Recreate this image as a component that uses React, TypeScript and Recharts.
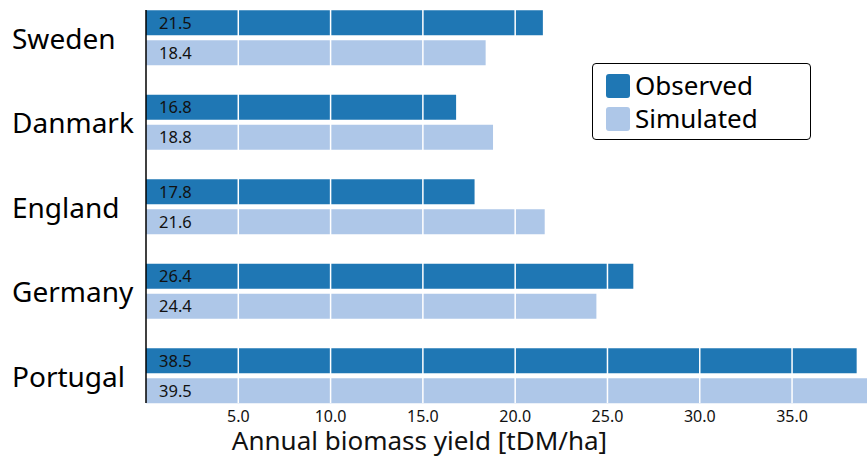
import { Bar, BarChart, LabelList, Legend, ReferenceLine, XAxis, YAxis } from "recharts";

const countries = ["Sweden", "Danmark", "England", "Germany", "Portugal"];
const observed = [21.5, 16.8, 17.8, 26.4, 38.5];
const simulated = [18.4, 18.8, 21.6, 24.4, 39.5];
const xTicks = [5, 10, 15, 20, 25, 30, 35];

const OBS = "#1f77b4";
const SIM = "#aec7e8";
const FONT = "'Noto Sans', sans-serif";

const data = countries.map((country, i) => ({
    country,
    observed: observed[i],
    simulated: simulated[i],
}));

function CountryTick({ y, payload }: any) {
    return (
        <text x={12} y={y} fontSize={28} fill="#000" textAnchor="start" dominantBaseline="central" fontFamily={FONT}>
            {payload.value}
        </text>
    );
}

function LegendBox() {
    const items = [
        { name: "Observed", color: OBS },
        { name: "Simulated", color: SIM },
    ];
    return (
        <div
            style={{
                width: 219,
                height: 77,
                border: "1.5px solid #000",
                borderRadius: 4,
                background: "#fff",
                boxSizing: "border-box",
                fontFamily: FONT,
                fontSize: 26,
                color: "#000",
                paddingTop: 5,
            }}
        >
            {items.map((it) => (
                <div key={it.name} style={{ display: "flex", alignItems: "center", height: 33, paddingLeft: 13 }}>
                    <span
                        style={{ width: 24, height: 24, borderRadius: 3, background: it.color, marginRight: 5, display: "inline-block" }}
                    />
                    <span style={{ lineHeight: "33px" }}>{it.name}</span>
                </div>
            ))}
        </div>
    );
}

export default function App() {
    return (
        <div style={{ position: "fixed", left: 0, top: 0, width: 867, height: 462, overflow: "hidden", background: "#fff" }}>
            <BarChart
                width={867}
                height={462}
                layout="vertical"
                data={data}
                margin={{ top: 10, right: 0, bottom: 0, left: 0 }}
                barSize={25}
                barGap={5}
            >
                <XAxis
                    type="number"
                    domain={[0, 39.06]}
                    allowDataOverflow
                    ticks={xTicks}
                    tickFormatter={(v) => Number(v).toFixed(1)}
                    tick={{ fill: "#111", fontSize: 16, fontFamily: FONT }}
                    axisLine={false}
                    tickLine={false}
                    height={59}
                    label={{
                        value: "Annual biomass yield [tDM/ha]",
                        position: "insideBottom",
                        offset: 12,
                        dx: -87,
                        fill: "#111",
                        fontSize: 26,
                        fontFamily: FONT,
                    }}
                />
                <YAxis
                    type="category"
                    dataKey="country"
                    width={146}
                    tick={<CountryTick />}
                    tickLine={false}
                    axisLine={{ stroke: "#000", strokeWidth: 1.5 }}
                    padding={{ top: -14.75, bottom: -14.75 }}
                />
                <Legend
                    layout="horizontal"
                    verticalAlign="middle"
                    align="center"
                    wrapperStyle={{ top: 63, left: 592, width: "auto" }}
                    content={() => <LegendBox />}
                />
                <Bar dataKey="observed" fill={OBS} isAnimationActive={false}>
                    <LabelList
                        dataKey="observed"
                        position="insideLeft"
                        offset={13}
                        fill="#111"
                        fontSize={16.5}
                        fontFamily={FONT}
                        formatter={(v: any) => Number(v).toFixed(1)}
                    />
                </Bar>
                <Bar dataKey="simulated" fill={SIM} isAnimationActive={false}>
                    <LabelList
                        dataKey="simulated"
                        position="insideLeft"
                        offset={13}
                        fill="#111"
                        fontSize={16.5}
                        fontFamily={FONT}
                        formatter={(v: any) => Number(v).toFixed(1)}
                    />
                </Bar>
                {xTicks.map((t) => (
                    <ReferenceLine key={t} x={t} stroke="#fff" strokeWidth={1.5} />
                ))}
            </BarChart>
        </div>
    );
}
